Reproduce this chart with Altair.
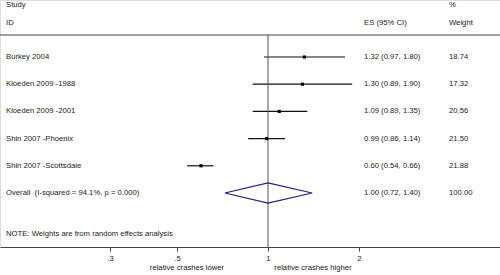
import altair as alt
import pandas as pd

# ---- data ----
studies = ["Burkey 2004", "Kloeden 2009 -1988", "Kloeden 2009 -2001",
           "Shin 2007 -Phoenix", "Shin 2007 -Scottsdale"]
es = [1.32, 1.30, 1.09, 0.99, 0.60]
lo = [0.97, 0.89, 0.89, 0.86, 0.54]
hi = [1.80, 1.90, 1.35, 1.14, 0.66]
weights = ["18.74", "17.32", "20.56", "21.50", "21.88"]

overall_label = "Overall\u00a0\u00a0(I-squared = 94.1%, p = 0.000)"
overall_es = 1.00
overall_lo = 0.72
overall_hi = 1.40
overall_weight = "100.00"

tick_values = [0.3, 0.5, 1, 2]
tick_labels = [".3", ".5", "1", "2"]
note = "NOTE: Weights are from random effects analysis"
headers = ["Study", "ID", "ES (95% CI)", "%", "Weight"]
sublabels = ["relative crashes lower", "relative crashes higher"]

FONT = "Liberation Sans"
FS = 7.7
TXT = "#1a1a1a"

rows = list(range(len(studies)))
df = pd.DataFrame({"row": rows, "study": studies, "es": es, "lo": lo, "hi": hi})
orow = len(studies)
txt_df = pd.DataFrame({
    "row": rows + [orow],
    "study": studies + [overall_label],
    "es_txt": [f"{e:.2f} ({l:.2f}, {h:.2f})" for e, l, h in zip(es, lo, hi)]
              + [f"{overall_es:.2f} ({overall_lo:.2f}, {overall_hi:.2f})"],
    "w": weights + [overall_weight],
})

half = 0.37
diamond = pd.DataFrame({
    "x": [overall_lo, overall_es, overall_hi, overall_es, overall_lo],
    "y": [orow, orow - half, orow, orow + half, orow],
    "o": [0, 1, 2, 3, 4],
})

# scales: pixel = 268 + 302*log10(v); pixel = 57 + 27.2*row
xscale = alt.Scale(type="log", domain=[0.1296, 5.866], nice=False, zero=False)
yscale = alt.Scale(domain=[-57 / 27.2, (247 - 57) / 27.2], reverse=True, nice=False, zero=False)

label_expr = " : ".join(
    f"datum.value == {v} ? '{t}'" for v, t in zip(tick_values[:-1], tick_labels[:-1])
) + f" : '{tick_labels[-1]}'"

xaxis = alt.Axis(values=tick_values, title=None, labelExpr=label_expr,
                 grid=False, domainColor="#444", domainWidth=1.2, tickColor="#444",
                 tickSize=4, tickWidth=1, labelFont=FONT, labelFontSize=FS, labelColor=TXT,
                 labelPadding=3, labelFlush=False)

base = alt.Chart(df)

ci = base.mark_rule(color="#111", strokeWidth=1.2).encode(
    x=alt.X("lo:Q", scale=xscale, axis=xaxis), x2="hi:Q",
    y=alt.Y("row:Q", scale=yscale, axis=None))

pts = base.mark_point(shape="square", filled=True, color="#000", size=10, opacity=1).encode(
    x=alt.X("es:Q", scale=xscale), y=alt.Y("row:Q", scale=yscale))

dia = alt.Chart(diamond).mark_line(color="#1f1f80", strokeWidth=1.2).encode(
    x=alt.X("x:Q", scale=xscale), y=alt.Y("y:Q", scale=yscale), order="o:Q")

vline = alt.Chart(pd.DataFrame({"v": [1.0]})).mark_rule(color="#555", strokeWidth=1).encode(
    x=alt.X("v:Q", scale=xscale), y=alt.value(35), y2=alt.value(247))

hline = alt.Chart(pd.DataFrame({"v": [0]})).mark_rule(color="#444", strokeWidth=1.2).encode(
    x=alt.value(0), x2=alt.value(500), y=alt.value(35))

tchart = alt.Chart(txt_df)
tstyle = dict(font=FONT, fontSize=FS, color=TXT, baseline="middle", align="left")
study_txt = tchart.mark_text(**tstyle).encode(
    x=alt.value(6), y=alt.Y("row:Q", scale=yscale), text="study:N")
es_txt = tchart.mark_text(**tstyle).encode(
    x=alt.value(364), y=alt.Y("row:Q", scale=yscale), text="es_txt:N")
w_txt = tchart.mark_text(**tstyle).encode(
    x=alt.value(449), y=alt.Y("row:Q", scale=yscale), text="w:N")

hdr = pd.DataFrame({
    "t": headers + [note],
    "px": [6, 6, 364, 449, 449, 6],
    "py": [5, 23, 23, 5, 23, 234],
})
hdr_txt = alt.Chart(hdr).mark_text(**tstyle).encode(
    x=alt.X("px:Q", scale=None), y=alt.Y("py:Q", scale=None), text="t:N")

sub = pd.DataFrame({"t": sublabels, "px": [187, 313], "py": [268, 268]})
sub_txt = alt.Chart(sub).mark_text(font=FONT, fontSize=FS, color=TXT,
                                    baseline="middle", align="center").encode(
    x=alt.X("px:Q", scale=None), y=alt.Y("py:Q", scale=None), text="t:N")

chart = alt.layer(ci, vline, hline, pts, dia, study_txt, es_txt, w_txt, hdr_txt, sub_txt).properties(
    width=500, height=247,
    autosize=alt.AutoSizeParams(type="none"),
    padding={"left": 0, "top": 0, "right": 0, "bottom": 28},
).configure_view(stroke=None).configure(background="white")

chart.save("out.html", embed_options={"renderer": "svg", "actions": False})
